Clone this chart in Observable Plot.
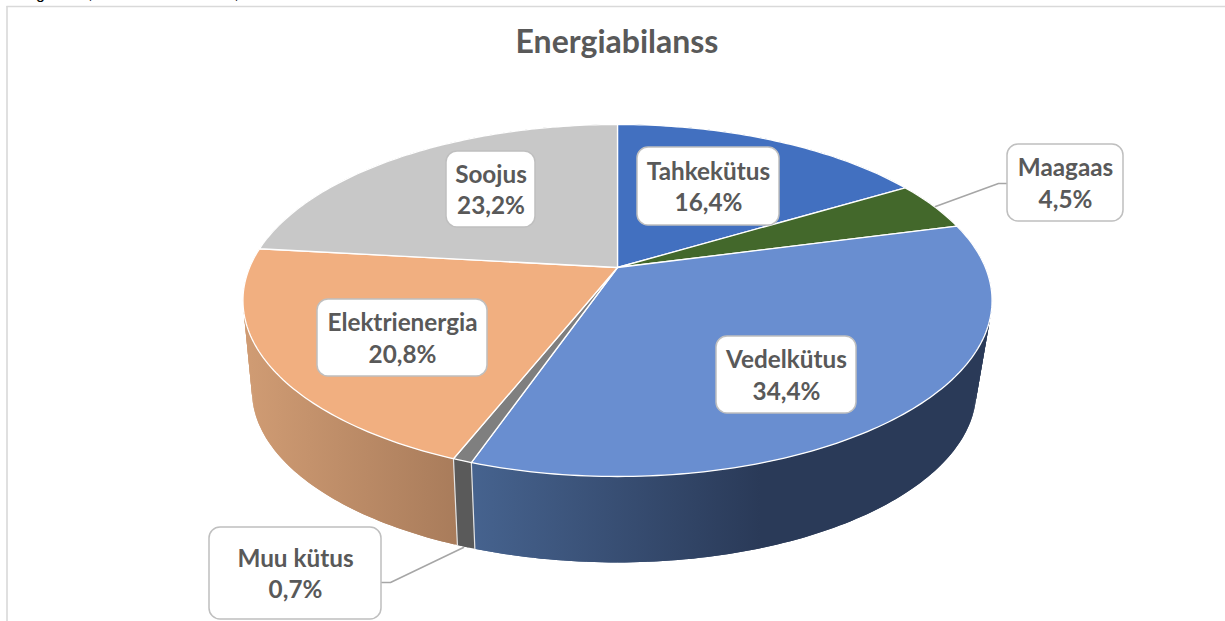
<!DOCTYPE html>
<html>
<head>
<meta charset="utf-8">
<script src="https://cdn.jsdelivr.net/npm/d3@7"></script>
<script src="https://cdn.jsdelivr.net/npm/@observablehq/plot@0.6"></script>
<style>
html,body{margin:0;padding:0;background:#fff;overflow:hidden}
svg{display:block}
</style>
</head>
<body>
<div id="chart"></div>
<script>
// Data
const chartTitle = "Energiabilanss";
const categories = ["Tahkekütus", "Maagaas", "Vedelkütus", "Muu kütus", "Elektrienergia", "Soojus"];
const shares = [16.4, 4.5, 34.4, 0.7, 20.8, 23.2];

// Styles
const topColors = ["#4270c0", "#43682b", "#698ed0", "#7f7f7f", "#f1af80", "#c8c8c8"];
const sideFrom = ["#33538c", "#2f4a1f", "#46638f", "#5a5a5a", "#cf9b73", "#8f8f8f"];
const sideTo = ["#33538c", "#2f4a1f", "#2a3a58", "#5a5a5a", "#a97c5b", "#8f8f8f"];
const sideRampX = [[0, 1225], [0, 1225], [470, 760], [0, 1225], [250, 455], [0, 1225]];

// Label layout
const boxes = [
  {x1: 637, x2: 779, y1: 147, y2: 225},
  {x1: 1007, x2: 1123, y1: 144, y2: 221},
  {x1: 716, x2: 856, y1: 336, y2: 413},
  {x1: 209, x2: 381, y1: 527, y2: 619},
  {x1: 317, x2: 487, y1: 299, y2: 376},
  {x1: 446, x2: 535, y1: 151, y2: 227}
];
const leaders = [
  {id: "Maagaas", x: 935, y: 206},
  {id: "Maagaas", x: 998, y: 183},
  {id: "Maagaas", x: 1007, y: 183},
  {id: "Muu", x: 463, y: 547},
  {id: "Muu", x: 390, y: 582},
  {id: "Muu", x: 381, y: 582}
];
const clippedCaption = [
  {t: "g", x: 40}, {t: ",", x: 90}, {t: ",", x: 236}
];

// Perspective projection of the pie disc
const cx = 617, cy = 267, k = 0.1875, A = 169.8, C = 367.9;
const vanishY = 4058, shrink = 0.976, shrinkRight = 0.958;
function topPoint(deg) {
  const t = deg * Math.PI / 180, u = Math.sin(t), v = Math.cos(t), d = 1 + k * v;
  return {x: cx + C * u / d, y: cy - A * v / d};
}
function bottomPoint(deg) {
  const p = topPoint(deg);
  const sx = p.x > cx ? shrinkRight : shrink;
  return {x: cx + sx * (p.x - cx), y: vanishY + shrink * (p.y - vanishY)};
}
function arcDegrees(a, b) {
  const out = [a];
  for (let d = Math.ceil(a); d < b; d++) if (d > a) out.push(d);
  out.push(b);
  return out;
}

let acc = 0;
const slices = categories.map((name, i) => {
  const start = acc / 100 * 360;
  acc += shares[i];
  return {i, name, start, end: acc / 100 * 360};
});

const topRows = [];
const stripRows = [];
const dividerRows = [];
for (const s of slices) {
  const degs = arcDegrees(s.start, s.end);
  topRows.push({id: s.name, x: cx, y: cy, fill: topColors[s.i]});
  for (const d of degs) topRows.push({id: s.name, ...topPoint(d), fill: topColors[s.i]});
  topRows.push({id: s.name, x: cx, y: cy, fill: topColors[s.i]});
  const paint = `url(#side${s.i})`;
  for (let j = 0; j + 1 < degs.length; j++) {
    // each strip overlaps the next one so that no seam shows between them
    const a = degs[j], b = degs[Math.min(j + 2, degs.length - 1)];
    const ta = topPoint(a), tb = topPoint(b), ba = bottomPoint(a), bb = bottomPoint(b);
    const mid = (a + b) / 2;
    const tm = topPoint(mid), bm = bottomPoint(mid);
    const id = s.name + "-" + j;
    for (const p of [ta, tm, tb, bb, bm, ba, ta]) stripRows.push({id, x: p.x, y: p.y, fill: paint});
  }
}
for (const s of slices.slice(2, 5)) {
  const t = topPoint(s.start), b = bottomPoint(s.start);
  dividerRows.push({id: s.name, ...t}, {id: s.name, ...b});
}

const labelRows = categories.map((name, i) => ({
  ...boxes[i],
  text: name + "\n" + shares[i].toFixed(1).replace(".", ",") + "%"
}));

function gradients() {
  const g = d3.create("svg:g");
  const defs = g.append("defs");
  categories.forEach((_, i) => {
    const lg = defs.append("linearGradient")
      .attr("id", `side${i}`)
      .attr("gradientUnits", "userSpaceOnUse")
      .attr("x1", sideRampX[i][0]).attr("x2", sideRampX[i][1])
      .attr("y1", 0).attr("y2", 0);
    lg.append("stop").attr("offset", 0).attr("stop-color", sideFrom[i]);
    lg.append("stop").attr("offset", 1).attr("stop-color", sideTo[i]);
  });
  return g.node();
}

const fontFamily = "Lato, 'Open Sans', sans-serif";
const chart = Plot.plot({
  width: 1225,
  height: 621,
  margin: 0,
  style: {background: "#fff", fontFamily},
  x: {domain: [0, 1225], range: [0, 1225], axis: null},
  y: {domain: [0, 621], range: [0, 621], axis: null},
  color: {type: "identity"},
  marks: [
    gradients,
    Plot.text(clippedCaption, {x: "x", y: () => -7, text: "t", fontSize: 16, fill: "#000", fontFamily: "'Liberation Sans'"}),
    Plot.ruleY([6], {x1: 6.5, x2: 1225, stroke: "#d9d9d9", strokeWidth: 1.6}),
    Plot.ruleX([6.5], {y1: 6, y2: 621, stroke: "#d9d9d9", strokeWidth: 1.6}),
    Plot.text([chartTitle], {x: () => 616.5, y: () => 42, text: d => d, fontSize: 32, fontWeight: 700, fill: "#595959"}),
    Plot.line(stripRows, {x: "x", y: "y", z: "id", fill: "fill", stroke: "none", curve: "linear"}),
    Plot.line(dividerRows, {x: "x", y: "y", z: "id", stroke: "#e4e4e4", strokeWidth: 1.2}),
    Plot.line(topRows, {x: "x", y: "y", z: "id", fill: "fill", stroke: "#fff", strokeWidth: 1.3, strokeLinejoin: "round", curve: "linear"}),
    Plot.line(leaders, {x: "x", y: "y", z: "id", stroke: "#a6a6a6", strokeWidth: 1.5}),
    Plot.rect(labelRows, {x1: "x1", x2: "x2", y1: "y1", y2: "y2", fill: "#fff", stroke: "#bfbfbf", strokeWidth: 1.5, rx: 11}),
    Plot.text(labelRows, {x: d => (d.x1 + d.x2) / 2, y: d => (d.y1 + d.y2) / 2 - 1, text: "text", fontSize: 24.3, lineHeight: 1.28, fontWeight: 700, fill: "#595959"})
  ]
});
document.getElementById("chart").appendChild(chart);
</script>
</body>
</html>
